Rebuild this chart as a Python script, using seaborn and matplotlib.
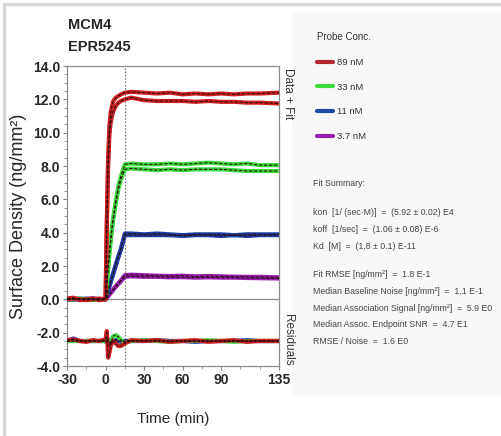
import numpy as np
import pandas as pd
import seaborn as sns
import matplotlib.pyplot as plt
from matplotlib.patches import Rectangle
from matplotlib.lines import Line2D
from matplotlib.ticker import MultipleLocator, FixedLocator

# time axis (min)
t = [-30, -25, -20, -15, -10, -5, 0,
     1, 2, 3, 4, 5, 6, 8, 10, 12, 15,
     20, 30, 40, 50, 60, 70, 80, 90, 100, 110, 120, 135]

# two sensor spots per concentration (ng/mm^2)
red_a = [0.05, 0.1, -0.05, 0.0, 0.05, -0.05, 0.0,
         4.8, 8.4, 10.4, 11.2, 11.6, 11.9, 12.1, 12.2, 12.3, 12.4,
         12.45, 12.4, 12.35, 12.4, 12.3, 12.35, 12.3, 12.35, 12.3, 12.35, 12.35, 12.4]
red_b = [0.0, 0.05, 0.0, -0.05, 0.0, 0.05, 0.0,
         4.5, 8.0, 9.9, 10.6, 11.0, 11.3, 11.6, 11.8, 11.9, 12.0,
         12.1, 11.95, 11.9, 11.9, 11.9, 11.85, 11.9, 11.85, 11.85, 11.8, 11.8, 11.75]
green_a = [0.0, 0.0, 0.05, 0.0, -0.05, 0.0, 0.0,
           1.0, 1.9, 2.8, 3.6, 4.3, 4.9, 5.9, 6.8, 7.4, 8.1,
           8.15, 8.1, 8.1, 8.15, 8.1, 8.15, 8.2, 8.15, 8.1, 8.15, 8.05, 8.05]
green_b = [0.0, 0.05, 0.0, 0.0, 0.0, -0.05, 0.0,
           0.95, 1.85, 2.7, 3.5, 4.2, 4.8, 5.8, 6.6, 7.2, 7.8,
           7.85, 7.8, 7.75, 7.8, 7.75, 7.8, 7.8, 7.8, 7.75, 7.7, 7.7, 7.7]
blue_a = [0.0, 0.05, 0.0, 0.0, 0.05, 0.0, 0.0,
          0.27, 0.54, 0.8, 1.07, 1.33, 1.58, 2.1, 2.6, 3.05, 3.95,
          3.95, 3.9, 3.95, 3.9, 3.85, 3.9, 3.9, 3.9, 3.85, 3.9, 3.9, 3.9]
blue_b = [0.0, 0.0, 0.0, 0.05, 0.0, 0.0, 0.0,
          0.25, 0.5, 0.76, 1.02, 1.28, 1.53, 2.03, 2.52, 2.98, 3.85,
          3.85, 3.85, 3.85, 3.85, 3.8, 3.85, 3.85, 3.8, 3.85, 3.8, 3.85, 3.85]
purple_a = [0.0, 0.0, 0.05, 0.0, 0.0, 0.0, 0.0,
            0.1, 0.2, 0.3, 0.4, 0.5, 0.6, 0.8, 0.98, 1.15, 1.45,
            1.48, 1.45, 1.42, 1.4, 1.42, 1.38, 1.4, 1.38, 1.36, 1.35, 1.35, 1.32]
purple_b = [0.0, 0.0, 0.0, 0.0, 0.05, 0.0, 0.0,
            0.09, 0.18, 0.28, 0.37, 0.46, 0.56, 0.75, 0.92, 1.08, 1.35,
            1.38, 1.35, 1.35, 1.32, 1.33, 1.3, 1.32, 1.3, 1.3, 1.28, 1.27, 1.25]

# residuals (deviation from fit), drawn around the residual offset
red_res = [0.05, 0.1, 0.0, -0.05, 0.05, 0.0, 0.1,
           0.6, -1.0, -0.7, -0.3, -0.1, 0.0, -0.15, -0.3, -0.3, -0.15,
           0.05, 0.0, 0.05, -0.05, 0.0, 0.05, -0.05, 0.0, 0.05, -0.05, 0.0, 0.0]
green_res = [0.0, 0.0, 0.0, 0.0, 0.0, 0.0, 0.0,
             0.2, 0.0, -0.3, -0.1, 0.1, 0.3, 0.35, 0.25, 0.05, -0.1,
             0.0, 0.05, 0.0, -0.05, 0.0, 0.0, 0.05, 0.0, -0.05, 0.0, 0.0, 0.0]
blue_res = [0.0, 0.15, 0.0, 0.0, 0.0, 0.0, 0.0,
            -0.1, 0.1, -0.1, -0.2, -0.1, 0.0, 0.05, 0.0, -0.05, 0.0,
            0.0, 0.0, 0.05, 0.0, 0.0, -0.05, 0.0, 0.0, 0.0, 0.05, 0.0, 0.0]
purple_res = [0.0, 0.0, 0.0, 0.0, 0.0, 0.0, 0.0,
              0.0, 0.05, 0.0, -0.05, 0.0, 0.0, 0.05, 0.0, 0.0, 0.0,
              0.0, 0.0, 0.0, 0.0, 0.0, 0.0, 0.0, 0.0, 0.0, 0.0, 0.0, 0.0]
resid_offset = -2.5

conc_labels = ['89 nM', '33 nM', '11 nM', '3.7 nM']
colors = ['#d01f1f', '#3ddc3d', '#1f3fa8', '#9a1fb0']
legend_colors = ['#b3262b', '#3ddc3d', '#1f4aa8', '#9a1fb0']

x_labels = ['-30', '0', '30', '60', '90', '135']

summary_lines = [
    'kon  [1/ (sec\u00b7M)]  =  (5.92 \u00b1 0.02) E4',
    'koff  [1/sec]  =  (1.06 \u00b1 0.08) E-6',
    'Kd  [M]  =  (1.8 \u00b1 0.1) E-11',
]
stats_lines = [
    'Fit RMSE [ng/mm\u00b2]  =  1.8 E-1',
    'Median Baseline Noise [ng/mm\u00b2]  =  1.1 E-1',
    'Median Association Signal [ng/mm\u00b2]  =  5.9 E0',
    'Median Assoc. Endpoint SNR  =  4.7 E1',
    'RMSE / Noise  =  1.6 E0',
]

sns.set_style('white')
plt.rcParams['font.family'] = ['Liberation Sans', 'DejaVu Sans']

fig = plt.figure(figsize=(5.02, 4.36), dpi=100)

# light frame and grey side panel (kept behind the axes)
fig.add_artist(Line2D([0.008, 1.0], [1 - 4 / 436, 1 - 4 / 436], color='#d8d8d8', lw=2.5))
fig.add_artist(Line2D([0.008, 0.008], [0.0, 1 - 4 / 436], color='#d8d8d8', lw=2.5))
fig.patches.append(Rectangle((292 / 502, 1 - 395 / 436), 1 - 292 / 502, 383 / 436,
                             transform=fig.transFigure, color='#f8f8f8', zorder=-1))

ax = fig.add_axes([67 / 502, 1 - 366 / 436, 212 / 502, 300 / 436])
ax.patch.set_alpha(0)

ax.axhline(0, color='#888888', lw=0.9, zorder=1)
ax.axvline(15, color='#777777', lw=0.8, ls=(0, (1.5, 1.5)), zorder=1)

series = [(red_a, red_b, red_res), (green_a, green_b, green_res),
          (blue_a, blue_b, blue_res), (purple_a, purple_b, purple_res)]
# draw low concentrations first so red ends on top
for i in [3, 2, 1, 0]:
    a, b, r = series[i]
    for vals in (a, b):
        sns.lineplot(x=t, y=vals, ax=ax, color=colors[i], lw=3.0, zorder=3)
        sns.lineplot(x=t, y=vals, ax=ax, color='#2a1010', lw=0.8, ls=(0, (3, 1.5)), zorder=4)
    res = [resid_offset + v for v in r]
    sns.lineplot(x=t, y=res, ax=ax, color=colors[i], lw=3.0, zorder=3)
    sns.lineplot(x=t, y=res, ax=ax, color='#2a1010', lw=0.7, ls=(0, (3, 1.5)), zorder=4)

ax.set_xlim(-30, 135)
ax.set_ylim(-4, 14)
ax.yaxis.set_major_locator(MultipleLocator(2))
ax.yaxis.set_minor_locator(MultipleLocator(0.5))
ax.set_yticklabels([f'{v:.1f}' for v in ax.get_yticks()])
ax.xaxis.set_major_locator(FixedLocator([int(s) for s in x_labels]))
ax.set_xticklabels(x_labels)
ax.xaxis.set_minor_locator(MultipleLocator(15))
ax.tick_params(axis='both', which='both', direction='out', color='#888888',
               bottom=True, left=True, pad=2)
ax.tick_params(axis='y', which='major', length=3, width=0.8)
ax.tick_params(axis='y', which='minor', length=2, width=0.6)
ax.tick_params(axis='x', which='major', length=3, width=0.8)
ax.tick_params(axis='x', which='minor', length=2, width=0.6)
for lab in ax.get_xticklabels() + ax.get_yticklabels():
    lab.set_fontweight('bold')
    lab.set_fontsize(10)
for s in ax.spines.values():
    s.set_color('#8c8c8c')
    s.set_linewidth(0.9)

ax.set_xlabel('Time (min)', fontsize=11, labelpad=18)
ax.set_ylabel('Surface Density (ng/mm\u00b2)', fontsize=13, labelpad=4)

ax.text(1.012, 0.995, 'Data + Fit', transform=ax.transAxes, rotation=-90,
        ha='left', va='top', fontsize=8.5, color='#333333')
ax.text(1.012, 0.0, 'Residuals', transform=ax.transAxes, rotation=-90,
        ha='left', va='bottom', fontsize=8.5, color='#333333')

fig.text(68 / 502, 1 - 29 / 436, 'MCM4', fontsize=10.5, fontweight='bold')
fig.text(68 / 502, 1 - 51 / 436, 'EPR5245', fontsize=10.5, fontweight='bold')

handles = [Line2D([], [], color=c, lw=3) for c in legend_colors]
leg = fig.legend(handles, conc_labels, loc='upper left',
                 bbox_to_anchor=(309 / 502, 1 - 24 / 436), frameon=False,
                 title='Probe Conc.', alignment='left', handlelength=1.6,
                 handletextpad=0.5, labelspacing=1.65,
                 prop={'size': 6.8})
leg.get_title().set_fontsize(7)
for txt in leg.get_texts():
    txt.set_color('#333333')
leg.get_title().set_color('#333333')

fs = 6.3
fig.text(313 / 502, 1 - 186 / 436, 'Fit Summary:', fontsize=fs, color='#444444')
for k, line in enumerate(summary_lines):
    fig.text(313 / 502, 1 - (215 + 17 * k) / 436, line, fontsize=fs, color='#444444')
for k, line in enumerate(stats_lines):
    fig.text(313 / 502, 1 - (277 + 16.8 * k) / 436, line, fontsize=fs, color='#444444')

fig.savefig('out.png', dpi=100)
